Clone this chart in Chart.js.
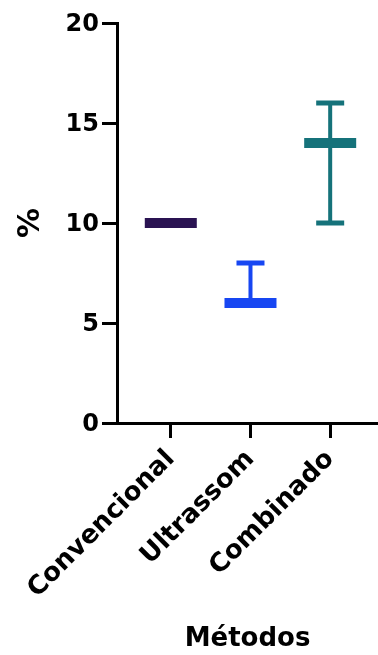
<!DOCTYPE html>
<html>
<head>
<meta charset="utf-8">
<script src="https://cdn.jsdelivr.net/npm/chart.js@4"></script>
<style>
  html, body { margin: 0; padding: 0; background: #fff; }
  #wrap { width: 378px; height: 655px; }
</style>
</head>
<body>
<div id="wrap"><canvas id="chart"></canvas></div>
<script>
// values
var categories = ['Convencional', 'Ultrassom', 'Combinado'];
var means = [10, 6, 14];
var lower = [10, 6, 10];
var upper = [10, 8, 16];
var colors = ['#2a1352', '#1746f2', '#15727a'];
var yTicks = [0, 5, 10, 15, 20];

var FONT = "'DejaVu Sans', Arial, sans-serif";

var datasets = [];

// whiskers, one per group
for (var i = 0; i < categories.length; i++) {
    datasets.push({
        showLine: true,
        data: [{x: i + 1, y: lower[i]}, {x: i + 1, y: upper[i]}],
        borderColor: colors[i],
        borderWidth: 4,
        pointRadius: 0,
        order: 3
    });
}

// caps
var capData = [], capColors = [];
for (var i = 0; i < categories.length; i++) {
    capData.push({x: i + 1, y: lower[i]});
    capColors.push(colors[i]);
    capData.push({x: i + 1, y: upper[i]});
    capColors.push(colors[i]);
}
datasets.push({
    data: capData,
    pointStyle: 'line',
    pointRadius: 14,
    pointBorderWidth: 5,
    pointBorderColor: capColors,
    borderColor: capColors,
    order: 2
});

// mean bars
datasets.push({
    data: means.map(function (m, i) { return {x: i + 1, y: m}; }),
    pointStyle: 'line',
    pointRadius: 26,
    pointBorderWidth: 10,
    pointBorderColor: colors,
    borderColor: colors,
    order: 1
});

var ctx = document.getElementById('chart').getContext('2d');
new Chart(ctx, {
    type: 'scatter',
    data: { datasets: datasets },
    options: {
        responsive: true,
        maintainAspectRatio: false,
        animation: false,
        layout: { autoPadding: false, padding: { top: 23, right: 0, left: 0, bottom: 0 } },
        plugins: {
            legend: { display: false },
            tooltip: { enabled: false }
        },
        scales: {
            x: {
                type: 'linear',
                min: 0.325,
                max: 3.6,
                afterBuildTicks: function (scale) {
                    scale.ticks = categories.map(function (c, i) { return {value: i + 1}; });
                },
                afterFit: function (scale) {
                    scale.height = 232;
                    scale.paddingLeft = 0;
                    scale.paddingRight = 0;
                },
                border: { color: '#000', width: 3 },
                grid: { drawOnChartArea: false, color: '#000', lineWidth: 3, tickLength: 15 },
                ticks: {
                    color: '#000',
                    font: { family: FONT, size: 26, weight: 'bold' },
                    minRotation: 45,
                    maxRotation: 45,
                    padding: 6,
                    callback: function (v) { return categories[v - 1]; }
                },
                title: {
                    display: true,
                    text: 'Métodos',
                    color: '#000',
                    font: { family: FONT, size: 26, weight: 'bold' },
                    padding: { top: 0, bottom: 0 }
                }
            },
            y: {
                min: 0,
                max: 20,
                afterBuildTicks: function (scale) {
                    scale.ticks = yTicks.map(function (v) { return {value: v}; });
                },
                afterFit: function (scale) {
                    scale.width = 117;
                    scale.paddingTop = 0;
                    scale.paddingBottom = 0;
                },
                border: { color: '#000', width: 3 },
                grid: { drawOnChartArea: false, color: '#000', lineWidth: 3, tickLength: 15 },
                ticks: {
                    color: '#000',
                    font: { family: FONT, size: 24, weight: 'bold' },
                    padding: 3,
                    labelOffset: 2
                },
                title: {
                    display: true,
                    text: '%',
                    color: '#000',
                    font: { family: FONT, size: 30, weight: 'bold' },
                    padding: { top: 13, bottom: 0 }
                }
            }
        }
    }
});
</script>
</body>
</html>
